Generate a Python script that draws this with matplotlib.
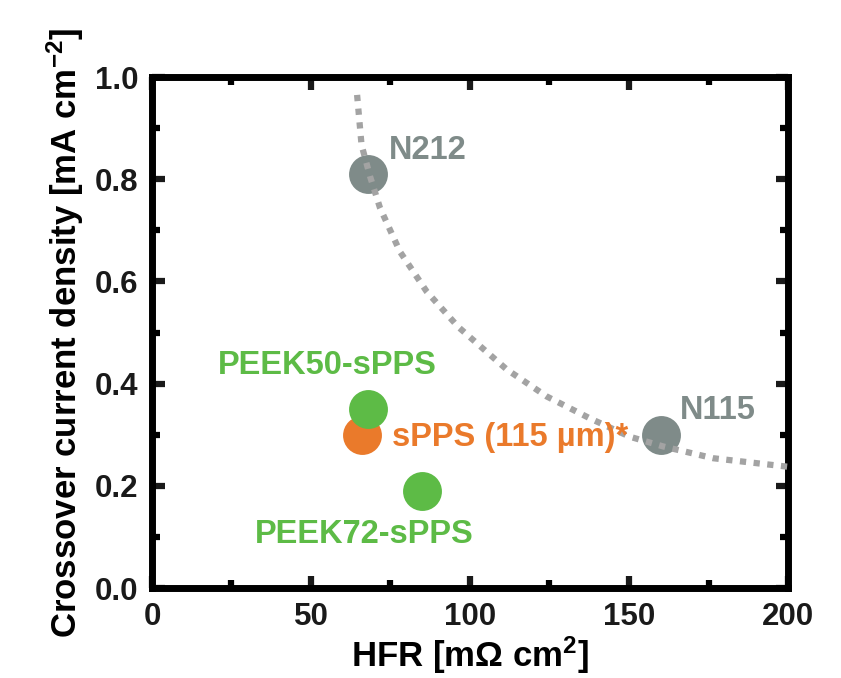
import numpy as np
import matplotlib.pyplot as plt

# membranes: HFR [mOhm cm2] vs crossover current density [mA cm-2]
names = ["N212", "N115", "sPPS (115 µm)*", "PEEK50-sPPS", "PEEK72-sPPS"]
hfr = [68, 160, 66, 68, 85]
crossover = [0.81, 0.30, 0.30, 0.35, 0.19]
colors = ["#7f8b89", "#7f8b89", "#ea7a2b", "#5dbb46", "#5dbb46"]

# guide-to-the-eye trade-off curve
curve_x = [64.5, 65.9, 68.6, 71.7, 78, 86.4, 96.3, 111.5, 124.1, 137.7, 150.3, 160.8, 176.5, 200.5]
curve_y = [0.965, 0.867, 0.805, 0.744, 0.658, 0.58, 0.511, 0.428, 0.375, 0.332, 0.296, 0.277, 0.254, 0.237]

# label anchors (data coords) and alignment
label_pos = {
    "N212": (74.5, 0.857, "left"),
    "N115": (166, 0.348, "left"),
    "sPPS (115 µm)*": (75.5, 0.294, "left"),
    "PEEK50-sPPS": (55, 0.436, "center"),
    "PEEK72-sPPS": (66.7, 0.104, "center"),
}


def main():
    plt.rcParams['font.family'] = ['Liberation Sans', 'DejaVu Sans']
    plt.rcParams['font.weight'] = 'bold'
    plt.rcParams['mathtext.fontset'] = 'custom'
    plt.rcParams['mathtext.rm'] = 'Liberation Sans:bold'
    plt.rcParams['mathtext.bf'] = 'Liberation Sans:bold'
    plt.rcParams['mathtext.default'] = 'bf'

    fig = plt.figure(figsize=(8.41, 6.78), dpi=100)
    ax = fig.add_axes([0.1807, 0.1327, 0.7563, 0.7537])

    for i in [2, 3, 4, 0, 1]:
        ax.plot(hfr[i], crossover[i], 'o', ms=28, color=colors[i], mec='none', zorder=3)

    ax.plot(curve_x, curve_y, color='#a3a3a3', lw=4.5, ls=(0, (1, 1.2)),
            dash_capstyle='butt', zorder=4, clip_on=False)

    for i, name in enumerate(names):
        x, y, ha = label_pos[name]
        ax.text(x, y, name, color=colors[i], fontsize=23.5, fontweight='bold',
                ha=ha, va='center', zorder=5)

    ax.set_xlim(0, 200)
    ax.set_ylim(0, 1.0)
    ax.set_xticks([0, 50, 100, 150, 200])
    ax.set_xticks([25, 75, 125, 175], minor=True)
    ax.set_yticks([0.0, 0.2, 0.4, 0.6, 0.8, 1.0])
    ax.set_yticks([0.1, 0.3, 0.5, 0.7, 0.9], minor=True)
    ax.set_yticklabels(["0.0", "0.2", "0.4", "0.6", "0.8", "1.0"])

    for s in ax.spines.values():
        s.set_linewidth(5)
    ax.tick_params(which='major', direction='in', length=9, width=4.5,
                   top=True, right=True, labelsize=22.5, pad=10, colors='#1a1a1a')
    ax.tick_params(which='minor', direction='in', length=6, width=4.5,
                   top=True, right=True)

    ax.set_xlabel("HFR [mΩ cm$^{2}$]", fontsize=25, fontweight='bold', labelpad=2)
    ax.set_ylabel("Crossover current density [mA cm$^{-2}$]", fontsize=25,
                  fontweight='bold', labelpad=6)

    fig.savefig("out.png", dpi=100)


if __name__ == "__main__":
    main()
